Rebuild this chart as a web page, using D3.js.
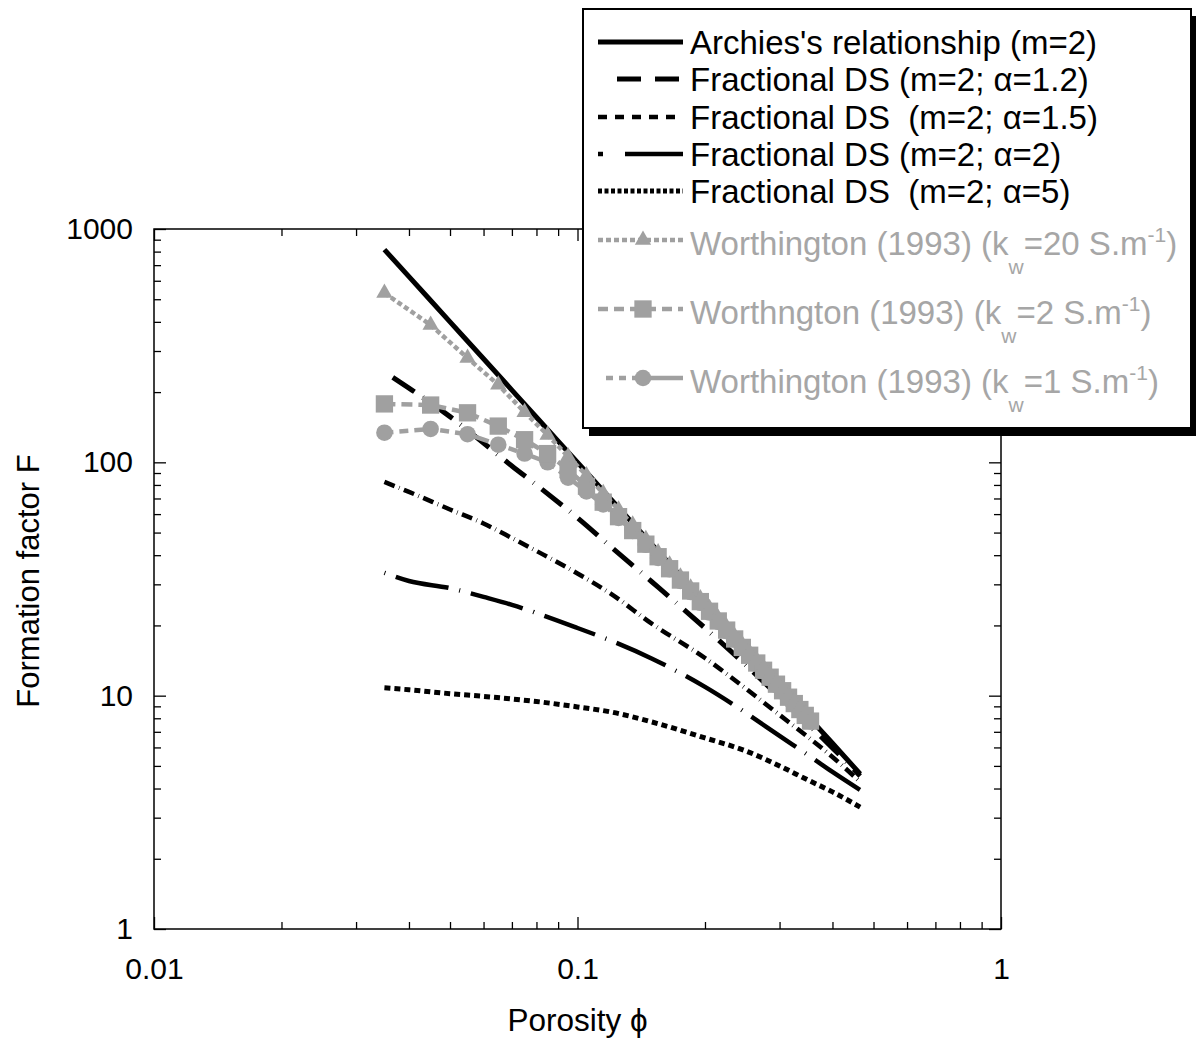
<!DOCTYPE html>
<html>
<head>
<meta charset="utf-8">
<script src="https://cdn.jsdelivr.net/npm/d3@7"></script>
<style>
  body { margin: 0; background: #fff; }
  svg { display: block; }
  text { font-family: "Liberation Sans", Arial, sans-serif; white-space: pre; }
</style>
</head>
<body>
<svg id="chart" width="1196" height="1040"></svg>
<script>
// Model curves
const porosity = [0.035, 0.04, 0.05, 0.06, 0.07, 0.08, 0.1, 0.12, 0.15, 0.2, 0.25, 0.3, 0.35, 0.4, 0.465];
const archie  = [816, 625, 400, 278, 204, 156, 100, 69.4, 44.4, 25, 16, 11.1, 8.16, 6.25, 4.62];
const fracA12 = [244, 208, 157, 121, 96.5, 80, 57.8, 43.4, 30.7, 19.5, 13.5, 9.87, 7.56, 5.97, 4.53];
const fracA15 = [82.4, 74.7, 62.8, 54.7, 47.4, 41.7, 33.4, 27.3, 20.3, 14.5, 10.7, 8.27, 6.65, 5.46, 4.27];
const fracA2  = [33.6, 31.0, 28.9, 26.5, 24.5, 22.6, 19.5, 17.2, 14.4, 10.9, 8.43, 6.72, 5.57, 4.71, 3.94];
const fracA5  = [10.8, 10.6, 10.2, 9.93, 9.68, 9.44, 8.95, 8.51, 7.71, 6.59, 5.79, 5.0, 4.35, 3.87, 3.33];

// Worthington (1993) points
const wPorosity = [0.035, 0.045, 0.055, 0.065, 0.075, 0.085, 0.095, 0.105, 0.115, 0.125,
                   0.135, 0.145, 0.155, 0.165, 0.175, 0.185, 0.195, 0.205, 0.215, 0.225,
                   0.235, 0.245, 0.255, 0.265, 0.275, 0.285, 0.295, 0.305, 0.315, 0.325,
                   0.335, 0.345, 0.355];
const kw20 = [532, 388, 280, 215, 164, 131, 106, 88, 73.7, 62.7, 54.0, 46.9, 41.1, 36.4, 32.4, 29.0,
              26.1, 23.7, 21.5, 19.7, 18.0, 16.6, 15.3, 14.2, 13.2, 12.3, 11.45, 10.7, 10.05, 9.44,
              8.88, 8.38, 7.91];
const kw2  = [178, 176, 163, 143, 125, 109, 93, 79, 67.5, 58.5, 51, 44.6, 39.4, 35, 31.3, 28.1,
              25.3, 23, 20.9, 19.1, 17.5, 16.1, 14.9, 13.8, 12.85, 12.0, 11.2, 10.5, 9.85, 9.25,
              8.72, 8.23, 7.78];
const kw1  = [134, 139, 132, 119, 109, 100, 86, 75, 66, 57.8, 50.8, 44.3, 38.9, 34.8, 31.0, 27.8,
              25.0, 22.7, 20.7, 18.9, 17.4, 16.0, 14.8, 13.7, 12.75, 11.9, 11.1, 10.4, 9.8, 9.2,
              8.7, 8.2, 7.75];

const xTickLabels = [0.01, 0.1, 1];
const yTickLabels = [1, 10, 100, 1000];
const xMinor = [0.02, 0.03, 0.04, 0.05, 0.06, 0.07, 0.08, 0.09, 0.2, 0.3, 0.4, 0.5, 0.6, 0.7, 0.8, 0.9];
const yMinor = [2, 3, 4, 5, 6, 7, 8, 9, 20, 30, 40, 50, 60, 70, 80, 90, 200, 300, 400, 500, 600, 700, 800, 900];

const GREY = "#a0a0a0";
const GREY_TEXT = "#a6a6a6";
const LEGEND_FONT = 33;

// line series and their styles
const lineSeries = [
    {name: "Archies's relationship (m=2)", values: archie,  width: 5,   dash: null,         legendDash: null},
    {name: "Fractional DS (m=2; \u03b1=1.2)",  values: fracA12, width: 5, dash: "26,10,0.6,10", offset: 36.6, legendDash: "0,19,24,14,24,20"},
    {name: "Fractional DS  (m=2; \u03b1=1.5)", values: fracA15, width: 4.5, dash: "11,4.7,0.6,4.7", legendDash: "9,8"},
    {name: "Fractional DS (m=2; \u03b1=2)",    values: fracA2,  width: 4.5, dash: "54,11,1,11", offset: 65, legendDash: "5,22,60"},
    {name: "Fractional DS  (m=2; \u03b1=5)",   values: fracA5,  width: 5,   dash: "6,4",        legendDash: "4,2.5"}
];
const pointSeries = [
    {pre: "Worthington (1993) (k", val: "=20 S.m", values: kw20, symbol: d3.symbolTriangle, size: 115, dash: "5,3", legendDash: "5,3"},
    {pre: "Worthngton (1993) (k",  val: "=2 S.m",  values: kw2,  symbol: d3.symbolSquare,   size: 300, dash: "11,6", legendDash: "10,6"},
    {pre: "Worthington (1993) (k", val: "=1 S.m",  values: kw1,  symbol: d3.symbolCircle,   size: 215, dash: "9,6,9,6,20,6", legendDash: "0,8,7,6,7,6,60"}
];

const svg = d3.select("#chart");
const margin = {left: 154, right: 1001, top: 229, bottom: 929};

const x = d3.scaleLog().domain([0.01, 1]).range([margin.left, margin.right]);
const y = d3.scaleLog().domain([1, 1000]).range([margin.bottom, margin.top]);

// Axes: ticks drawn inward on all four sides
function styleAxis(g) {
    g.select(".domain").remove();
    g.selectAll(".tick line").attr("stroke", "#000").attr("stroke-width", 1.3);
    g.selectAll("text").attr("font-size", 30).attr("fill", "#000")
        .attr("font-family", "Liberation Sans, Arial, sans-serif");
}
svg.append("g").attr("transform", `translate(0,${margin.bottom})`)
    .call(d3.axisBottom(x).tickValues(xTickLabels).tickSize(-12).tickSizeOuter(0).tickPadding(29).tickFormat(d3.format("")))
    .call(styleAxis);
svg.append("g").attr("transform", `translate(0,${margin.bottom})`)
    .call(d3.axisBottom(x).tickValues(xMinor).tickSize(-7).tickFormat(""))
    .call(styleAxis);
svg.append("g").attr("transform", `translate(0,${margin.top})`)
    .call(d3.axisTop(x).tickValues(xTickLabels.concat(xMinor)).tickSize(0).tickFormat(""))
    .call(styleAxis)
    .selectAll(".tick line").attr("y2", d => xTickLabels.includes(d) ? 12 : 7);
svg.append("g").attr("transform", `translate(${margin.left},0)`)
    .call(d3.axisLeft(y).tickValues(yTickLabels).tickSize(-12).tickPadding(21).tickFormat(d3.format("")))
    .call(styleAxis);
svg.append("g").attr("transform", `translate(${margin.left},0)`)
    .call(d3.axisLeft(y).tickValues(yMinor).tickSize(-7).tickFormat(""))
    .call(styleAxis);
svg.append("g").attr("transform", `translate(${margin.right},0)`)
    .call(d3.axisRight(y).tickValues(yTickLabels.concat(yMinor)).tickSize(0).tickFormat(""))
    .call(styleAxis)
    .selectAll(".tick line").attr("x2", d => yTickLabels.includes(d) ? -12 : -7);

// frame
svg.append("rect")
    .attr("x", margin.left).attr("y", margin.top)
    .attr("width", margin.right - margin.left).attr("height", margin.bottom - margin.top)
    .attr("fill", "none").attr("stroke", "#000").attr("stroke-width", 1.5);

// axis titles
svg.append("text")
    .attr("x", (margin.left + margin.right) / 2).attr("y", 1031)
    .attr("text-anchor", "middle").attr("font-size", 31.5)
    .text("Porosity \u03d5");
svg.append("text")
    .attr("transform", "translate(39,581) rotate(-90)")
    .attr("text-anchor", "middle").attr("font-size", 31)
    .text("Formation factor F");

// model lines
const line = d3.line().x(d => x(d[0])).y(d => y(d[1])).curve(d3.curveMonotoneX);
lineSeries.forEach(s => {
    svg.append("path")
        .datum(porosity.map((p, i) => [p, s.values[i]]))
        .attr("d", line)
        .attr("fill", "none").attr("stroke", "#000")
        .attr("stroke-width", s.width)
        .attr("stroke-dasharray", s.dash)
        .attr("stroke-dashoffset", s.offset || 0);
});

// Worthington points, drawn from kw=1 up to kw=20
const wLine = d3.line().x(d => x(d[0])).y(d => y(d[1]));
pointSeries.slice().reverse().forEach(s => {
    const pts = wPorosity.map((p, i) => [p, s.values[i]]);
    svg.append("path").datum(pts).attr("d", wLine)
        .attr("fill", "none").attr("stroke", GREY).attr("stroke-width", 4.5)
        .attr("stroke-dasharray", s.dash);
    svg.append("g").selectAll("path").data(pts).join("path")
        .attr("transform", d => `translate(${x(d[0])},${y(d[1])})`)
        .attr("d", d3.symbol(s.symbol, s.size))
        .attr("fill", GREY);
});

// Legend box with drop shadow
const legend = svg.append("g");
legend.append("rect").attr("x", 589).attr("y", 16).attr("width", 607).attr("height", 420).attr("fill", "#000");
legend.append("rect").attr("x", 583).attr("y", 9).attr("width", 608).attr("height", 419)
    .attr("fill", "#fff").attr("stroke", "#000").attr("stroke-width", 2);

const lineRowY = [42, 79, 117, 154, 191];
lineSeries.forEach((s, i) => {
    const ly = lineRowY[i];
    legend.append("line").attr("x1", 598).attr("x2", 683).attr("y1", ly).attr("y2", ly)
        .attr("stroke", "#000").attr("stroke-width", s.width)
        .attr("stroke-dasharray", s.legendDash);
    legend.append("text").attr("x", 690).attr("y", ly + 12).attr("font-size", LEGEND_FONT).text(s.name);
});

const pointRowY = [240, 309, 378];
pointSeries.forEach((s, i) => {
    const ly = pointRowY[i];
    legend.append("line").attr("x1", 598).attr("x2", 683).attr("y1", ly).attr("y2", ly)
        .attr("stroke", GREY).attr("stroke-width", 4.5)
        .attr("stroke-dasharray", s.legendDash);
    legend.append("path").attr("transform", `translate(643,${ly})`)
        .attr("d", d3.symbol(s.symbol, s.size)).attr("fill", GREY);
    const t = legend.append("text").attr("x", 690).attr("y", ly + 15)
        .attr("font-size", LEGEND_FONT).attr("fill", GREY_TEXT);
    t.append("tspan").text(s.pre);
    t.append("tspan").attr("dy", 19).attr("font-size", 21).text("w");
    t.append("tspan").attr("dy", -19).text(s.val);
    t.append("tspan").attr("dy", -13).attr("font-size", 21).text("-1");
    t.append("tspan").attr("dy", 13).text(")");
});
</script>
</body>
</html>
